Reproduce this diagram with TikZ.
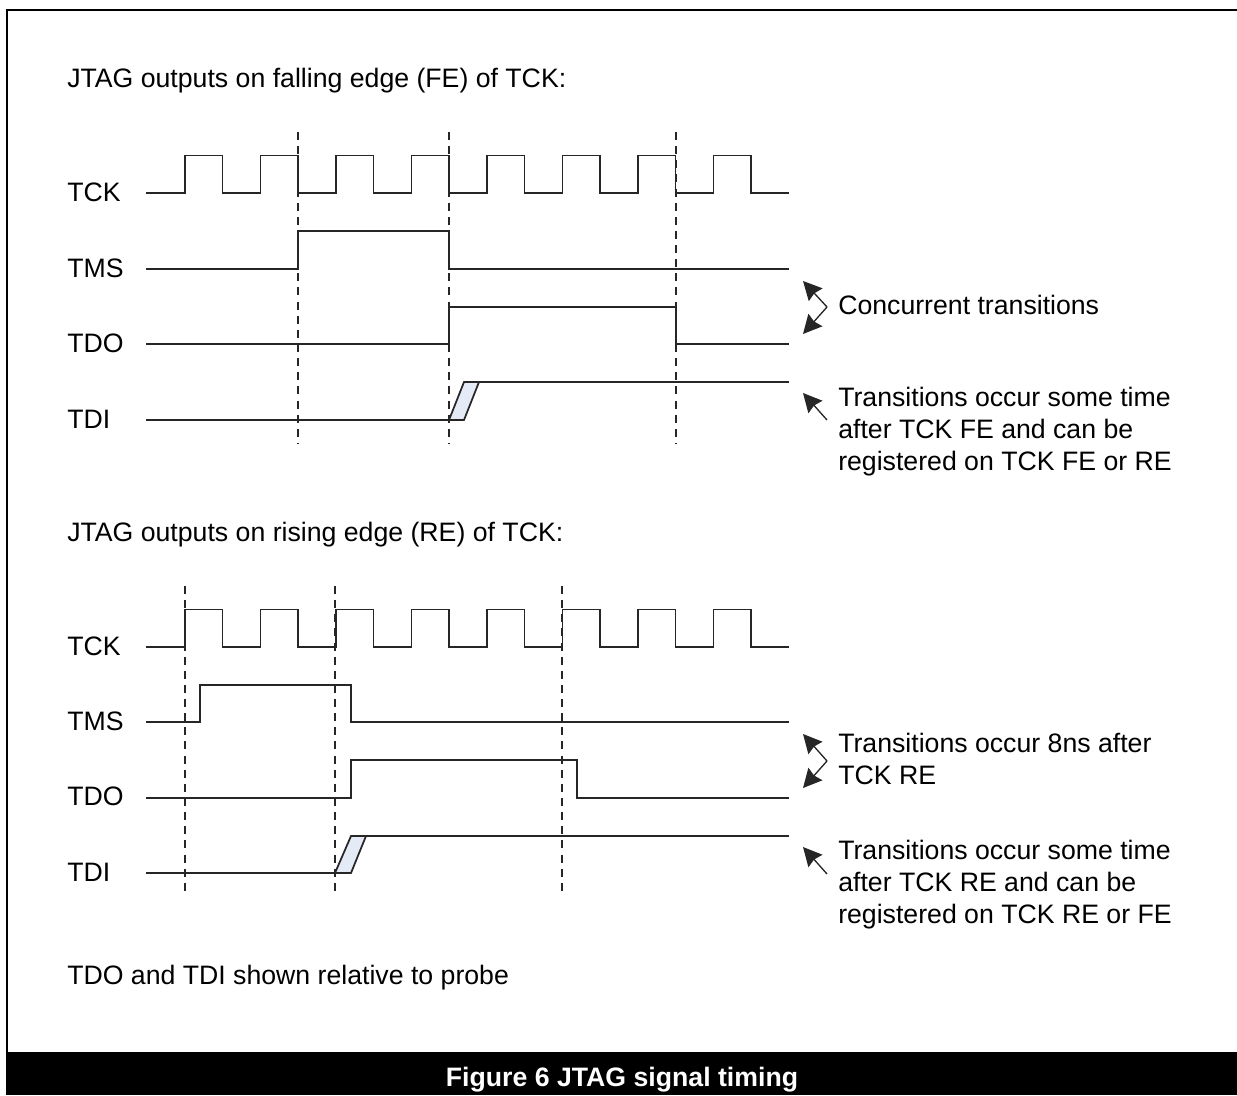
\documentclass[tikz,border=0pt]{standalone}
\usepackage{fontspec}
\setmainfont{Liberation Sans}
\usetikzlibrary{arrows.meta}
\tikzset{
  signal/.style={line width=1.3pt, black!85},
  edgemark/.style={line width=1pt, black!85, dash pattern=on 6pt off 4.6pt},
  note/.style={-{Stealth[length=14pt,width=14pt,inset=1.5pt]}, line width=1pt, black!85},
  lbl/.style={anchor=base west, inner sep=0pt, font=\fontsize{20}{24}\selectfont},
  notetext/.style={anchor=north west, inner sep=0pt, align=left, font=\fontsize{20}{24}\selectfont}
}
\definecolor{slewfill}{HTML}{E4EAF6}
\begin{document}
\begin{tikzpicture}[x=0.75pt, y=-0.75pt]
    \useasboundingbox (0,0) rectangle (1237,1095);

    % Frame and caption bar
    \draw[line width=2.2pt] (7,1052) -- (7,10) -- (1237,10);
    \fill (6,1052) rectangle (1237,1095);
    \node[anchor=base, inner sep=0pt, text=white, font=\fontsize{20}{24}\selectfont\bfseries] (caption) at (622,1086) {Figure 6 JTAG signal timing};

    % Headings
    \node[lbl] (headfe) at (67,88) {JTAG outputs on falling edge (FE) of TCK:};
    \node[lbl] (headre) at (67,541) {JTAG outputs on rising edge (RE) of TCK:};
    \node[lbl] (probe) at (67,984) {TDO and TDI shown relative to probe};

    % Signal names
    \node[lbl] (tckfe) at (67,201) {TCK};
    \node[lbl] (tmsfe) at (67,277) {TMS};
    \node[lbl] (tdofe) at (67,352) {TDO};
    \node[lbl] (tdife) at (67,428) {TDI};
    \node[lbl] (tckre) at (67,655) {TCK};
    \node[lbl] (tmsre) at (67,730) {TMS};
    \node[lbl] (tdore) at (67,805) {TDO};
    \node[lbl] (tdire) at (67,881) {TDI};

    % Dashed edge markers
    \foreach \x in {298,449,676} \draw[edgemark] (\x,132) -- (\x,444);
    \foreach \x in {185,335,562} \draw[edgemark] (\x,586) -- (\x,896);

    % Clocks
    \foreach \low in {193,647} {
        \draw[signal] (146,\low) foreach \r in {185,260.5,336,411.5,487,562.5,638,713.5} {
            -- (\r,\low) -- (\r,\low-37.5) -- (\r+37.5,\low-37.5) -- (\r+37.5,\low)
        } -- (789,\low);
    }

    % Upper group: FE
    \draw[signal] (146,269) -- (298,269) -- (298,231) -- (449,231) -- (449,269) -- (789,269);
    \draw[signal] (146,344) -- (449,344) -- (449,307) -- (676,307) -- (676,344) -- (789,344);
    \draw[signal, fill=slewfill] (449,420) -- (464,420) -- (479,382) -- (464,382) -- cycle;
    \draw[signal] (146,420) -- (449,420);
    \draw[signal] (464,382) -- (789,382);

    % Lower group: RE
    \draw[signal] (146,722) -- (200,722) -- (200,685) -- (351,685) -- (351,722) -- (789,722);
    \draw[signal] (146,798) -- (351,798) -- (351,760) -- (577,760) -- (577,798) -- (789,798);
    \draw[signal, fill=slewfill] (335,873) -- (351,873) -- (366,836) -- (351,836) -- cycle;
    \draw[signal] (146,873) -- (335,873);
    \draw[signal] (351,836) -- (789,836);

    % Notes
    \coordinate (bendfe) at (827,307);
    \coordinate (slewfe) at (827,420);
    \coordinate (bendre) at (827,761);
    \coordinate (slewre) at (827,874);
    \coordinate (tipa) at (803,281);
    \coordinate (tipb) at (803,334);
    \coordinate (tipc) at (803,393);
    \coordinate (tipd) at (803,734);
    \coordinate (tipe) at (803,788);
    \coordinate (tipf) at (803,847);
    \draw[note] (bendfe) -- (tipa);
    \draw[note] (bendfe) -- (tipb);
    \draw[note] (slewfe) -- (tipc);
    \draw[note] (bendre) -- (tipd);
    \draw[note] (bendre) -- (tipe);
    \draw[note] (slewre) -- (tipf);

    \node[lbl] (notea) at (838,314) {Concurrent transitions};
    \node[notetext] (noteb) at (838,386.5) {Transitions occur some time\\after TCK FE and can be\\registered on TCK FE or RE};
    \node[notetext] (notec) at (838,732.5) {Transitions occur 8ns after\\TCK RE};
    \node[notetext] (noted) at (838,839.5) {Transitions occur some time\\after TCK RE and can be\\registered on TCK RE or FE};
\end{tikzpicture}
\end{document}
